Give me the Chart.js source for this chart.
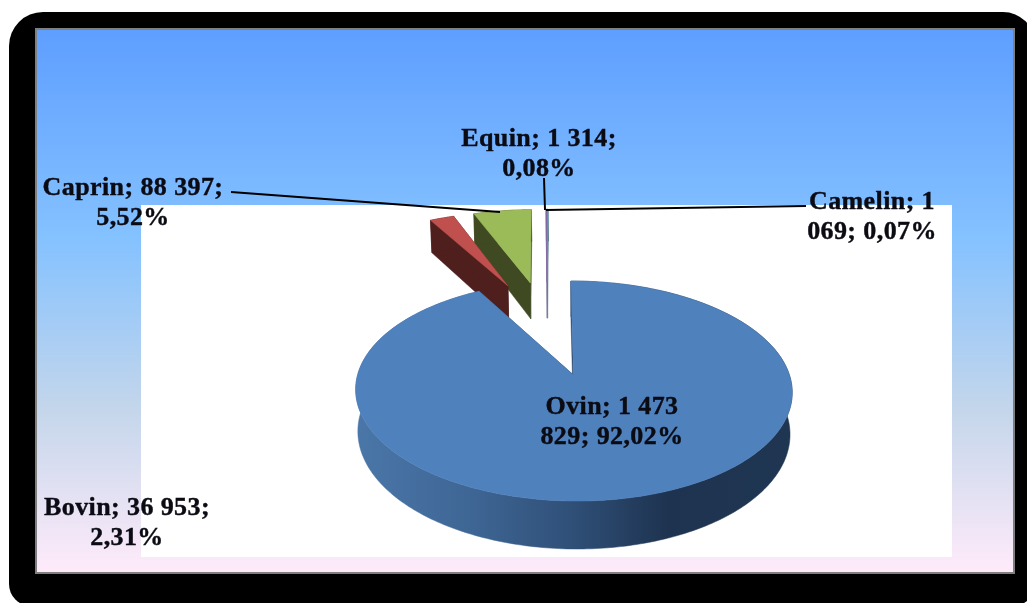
<!DOCTYPE html>
<html><head><meta charset="utf-8">
<style>html,body{margin:0;padding:0;background:#fff;overflow:hidden}canvas{display:block}</style>
<script src="https://cdn.jsdelivr.net/npm/chart.js@4"></script>
</head><body><canvas id="c" width="1027" height="603" style="width:1027px;height:603px"></canvas>
<script>
const categories = ['Ovin','Bovin','Caprin','Equin','Camelin'];
const values = [1473829,36953,88397,1314,1069];
const explosion = [50,50,50,50,50];
const topColors = ['#4f81bd','#c0504d','#9bbb59','#8064a2','#4bacc6'];
const wallColors = ['#2b4768','#4f1f1e','#3f4a22','#8f88ab','#215563'];
const labelLines = [
  ['Ovin; 1 473','829; 92,02%'],
  ['Bovin; 36 953;','2,31%'],
  ['Caprin; 88 397;','5,52%'],
  ['Equin; 1 314;','0,08%'],
  ['Camelin; 1','069; 0,07%']
];
const FONT = 'bold 26px "Liberation Serif"';

const frame = {
  id:'frame',
  beforeDraw(chart){
    const ctx=chart.ctx, a=chart.chartArea;
    ctx.save();
    ctx.fillStyle='#000';
    ctx.beginPath();ctx.roundRect(9,12,1026,594,[34,32,22,22]);ctx.fill();
    const g=ctx.createLinearGradient(0,28,0,573);
    g.addColorStop(0,'#5e9eff');g.addColorStop(.39,'#85c2ff');g.addColorStop(.7,'#c4d6eb');g.addColorStop(1,'#ffebfa');
    ctx.fillStyle=g;ctx.fillRect(35,28,980,546);
    ctx.strokeStyle='#7f7f7f';ctx.lineWidth=2;ctx.strokeRect(36,29,978,544);
    ctx.fillStyle='#fff';ctx.fillRect(a.left,a.top,a.right-a.left,a.bottom-a.top);
    ctx.restore();
  }
};

const pie3d = {
  id:'pie3d',
  beforeDatasetDraw(chart,args){
    const ctx=chart.ctx, meta=args.meta, arcs=meta.data, first=arcs[0];
    const R=first.outerRadius;
    const X0=first.x+27, Y0=first.y-6;
    const k=-0.1455, a=R*0.7132, b=R*1.43, c=3, d=R*0.2715;
    const firstMid=(first.startAngle+first.endAngle)/2, firstE=first.options.offset/100;
    const oX=firstE*Math.cos(firstMid), oY=firstE*Math.sin(firstMid);
    const proj=(ang,r,mid,e,low)=>{
      const U=r*Math.cos(ang)+e*Math.cos(mid)-oX, V=r*Math.sin(ang)+e*Math.sin(mid)-oY;
      const den=1+k*V;
      let x=X0+(b*U+c*V)/den, y=Y0+a*V/den;
      if(low){x=X0+(x-X0)*0.99;y+=d/den;}
      return [x,y];
    };
    const poly=(pts,fill)=>{
      ctx.beginPath();pts.forEach((p,i)=>i?ctx.lineTo(p[0],p[1]):ctx.moveTo(p[0],p[1]));ctx.closePath();
      ctx.fillStyle=fill;ctx.fill();ctx.strokeStyle=fill;ctx.lineWidth=0.5;ctx.stroke();
    };
    ctx.save();
    for(let i=arcs.length-1;i>=0;i--){
      const arc=arcs[i], s=arc.startAngle, t=arc.endAngle, mid=(s+t)/2, e=arc.options.offset/100;
      const n=Math.max(2,Math.ceil((t-s)*60));
      const upper=[],lower=[];
      for(let j=0;j<=n;j++){const ang=s+(t-s)*j/n;upper.push(proj(ang,1,mid,e,false));lower.push(proj(ang,1,mid,e,true));}
      const apex=proj(0,0,mid,e,false), apexLow=proj(0,0,mid,e,true);
      let wall=wallColors[i];
      poly([apex,upper[0],lower[0],apexLow],wall);
      poly([apex,upper[n],lower[n],apexLow],wall);
      if(i===0){
        wall=ctx.createLinearGradient(X0-b,0,X0+b,0);
        wall.addColorStop(0,'#4a76a8');wall.addColorStop(.25,'#3f6796');wall.addColorStop(.5,'#2f4f77');wall.addColorStop(.72,'#1e3350');wall.addColorStop(1,'#1f3653');
      }
      poly(upper.concat(lower.slice().reverse()),wall);
      poly([apex].concat(upper),arc.options.backgroundColor);
    }
    ctx.restore();
    return false;
  },
  afterDatasetsDraw(chart){
    const ctx=chart.ctx;
    ctx.save();
    ctx.strokeStyle='#000';ctx.lineWidth=2;
    [[[231,192],[500,212]],[[544,178],[545,210]],[[806,206],[546,210]]].forEach(l=>{
      ctx.beginPath();ctx.moveTo(l[0][0],l[0][1]);ctx.lineTo(l[1][0],l[1][1]);ctx.stroke();
    });
    ctx.font=FONT;ctx.letterSpacing='0.4px';ctx.fillStyle='#0b0b14';ctx.strokeStyle='#0b0b14';ctx.lineWidth=0.4;ctx.textAlign='center';ctx.textBaseline='middle';
    const places=[[612,407],[127,508],[133,188],[539,139],[872,202]];
    labelLines.forEach((lines,i)=>{
      lines.forEach((txt,j)=>{const y=places[i][1]+j*30.5;ctx.fillText(txt,places[i][0],y);ctx.strokeText(txt,places[i][0],y);});
    });
    ctx.restore();
  }
};

new Chart(document.getElementById('c').getContext('2d'),{
  type:'pie',
  data:{labels:categories,datasets:[{data:values,backgroundColor:topColors,offset:explosion,borderWidth:0,hoverOffset:0}]},
  options:{
    responsive:false,animation:false,devicePixelRatio:1,events:[],
    layout:{padding:{left:141,top:205,right:75,bottom:46}},
    plugins:{legend:{display:false},tooltip:{enabled:false},title:{display:false}}
  },
  plugins:[frame,pie3d]
});
</script></body></html>
